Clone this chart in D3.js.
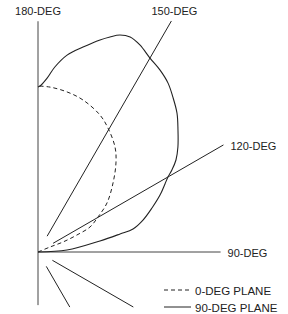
<!DOCTYPE html>
<html>
<head>
<meta charset="utf-8">
<script src="https://cdn.jsdelivr.net/npm/d3@7"></script>
<style>
  html, body { margin: 0; padding: 0; background: #fff; }
  svg { display: block; }
  text { font-family: "Liberation Sans", Arial, sans-serif; font-size: 11px; fill: #222; }
</style>
</head>
<body>
<script>
// Spokes (angle in degrees: 0 = down, 90 = right, 180 = up), radial extents in relative units
const spokeAngles = [180, 150, 120, 90, 60, 30, 0];
const spokeLabels = ["180-DEG", "150-DEG", "120-DEG", "90-DEG", "", "", ""];
const spokeStart  = [0, 0.11, 0.105, 0, 0.10, 0.10, 0];
const spokeEnd    = [1.39, 1.607, 1.29, 1.10, 0.663, 0.383, 0.32];

// 90-DEG PLANE (solid)
const theta90 = [94, 93.9, 100.1, 102.4, 103.6, 106.9, 111.1, 115.0, 118.2, 120.0, 121.5, 123.7, 126.9, 131.1, 135.0, 139.0, 142.4, 146.2, 150.0, 153.8, 156.8, 159.3, 161.5, 163.7, 167.6, 171.6, 174.8, 177.0, 179.3, 180];
const r90     = [0, 0.175, 0.379, 0.506, 0.589, 0.661, 0.736, 0.811, 0.868, 0.904, 0.946, 0.999, 1.054, 1.119, 1.184, 1.238, 1.284, 1.320, 1.349, 1.390, 1.409, 1.397, 1.366, 1.331, 1.264, 1.199, 1.119, 1.049, 1.0, 0.994];

// 0-DEG PLANE (dashed)
const theta0 = [90, 112.6, 111.8, 113.6, 115.7, 120.3, 125.4, 132.6, 138.8, 143.7, 150.6, 155.7, 163.5, 169.7, 175.8, 180];
const r0     = [0, 0.078, 0.162, 0.256, 0.348, 0.419, 0.51, 0.614, 0.713, 0.784, 0.858, 0.906, 0.955, 0.98, 0.996, 1.0];

const legendLabels = ["0-DEG PLANE", "90-DEG PLANE"];

const W = 288, H = 314;
const cx = 38, cy = 252;
const rScale = d3.scaleLinear().domain([0, 1]).range([0, 166]);
const ang = d => (180 - d) * Math.PI / 180;   // radians, 0 = up, clockwise
const pt = (deg, r) => [rScale(r) * Math.sin(ang(deg)), -rScale(r) * Math.cos(ang(deg))];

const svg = d3.select("body").append("svg").attr("width", W).attr("height", H);
const g = svg.append("g").attr("transform", `translate(${cx},${cy})`);

// spokes
spokeAngles.forEach((a, i) => {
  const p0 = pt(a, spokeStart[i]), p1 = pt(a, spokeEnd[i]);
  g.append("line")
    .attr("x1", p0[0]).attr("y1", p0[1]).attr("x2", p1[0]).attr("y2", p1[1])
    .attr("stroke", (a === 180 || a === 0 || a === 90) ? "#444" : "#222")
    .attr("stroke-width", 1);
  if (spokeLabels[i]) {
    if (a >= 150) {
      g.append("text").attr("x", p1[0] + (a === 150 ? 3 : 0)).attr("y", p1[1] - 6)
        .attr("text-anchor", "middle").text(spokeLabels[i]);
    } else {
      g.append("text").attr("x", p1[0] + 7).attr("y", p1[1] + 1)
        .attr("dominant-baseline", "central").text(spokeLabels[i]);
    }
  }
});

const radial = d3.lineRadial()
  .angle(d => ang(d[0]))
  .radius(d => rScale(d[1]))
  .curve(d3.curveCatmullRom.alpha(0.5));

g.append("path")
  .datum(theta0.map((t, i) => [t, r0[i]]))
  .attr("d", radial).attr("fill", "none")
  .attr("stroke", "#222").attr("stroke-width", 1).attr("stroke-dasharray", "4,3");

g.append("path")
  .datum(theta90.map((t, i) => [t, r90[i]]))
  .attr("d", radial).attr("fill", "none")
  .attr("stroke", "#222").attr("stroke-width", 1.1);

// legend
const lg = svg.append("g").attr("transform", "translate(164,290)");
legendLabels.forEach((lab, i) => {
  const y = i * 17;
  lg.append("line").attr("x1", 0).attr("x2", 27).attr("y1", y).attr("y2", y)
    .attr("stroke", "#222").attr("stroke-width", 1)
    .attr("stroke-dasharray", i === 0 ? "4,3" : null);
  lg.append("text").attr("x", 31).attr("y", y + 1)
    .attr("dominant-baseline", "central").style("font-size", "11.5px").text(lab);
});
</script>
</body>
</html>
